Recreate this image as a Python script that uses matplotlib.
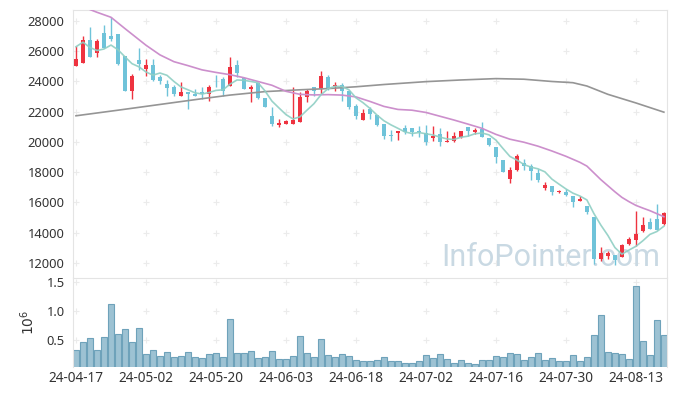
import numpy as np
import matplotlib
matplotlib.use('Agg')
import matplotlib.pyplot as plt

# daily candles (KRW)
open_ = [25000, 25200, 26750, 25910, 27210, 27010, 27160, 25690, 23340, 25430,
         24850, 25100, 24280, 23840, 23620, 23050, 23310, 23180, 23310, 23200,
         24060, 24170, 23710, 25100, 24220, 23470, 23890, 22920, 21730, 21140,
         21160, 21160, 21290, 22960, 23620, 23490, 24280, 23670, 23750, 23360,
         22390, 21420, 22190, 21800, 21200, 20480, 20560, 20940, 20940, 20720,
         20590, 20280, 20540, 19970, 20040, 20300, 21000, 20670, 20850, 20260,
         19680, 18800, 17570, 18120, 18630, 18410, 17920, 16930, 17110, 16670,
         16710, 16450, 16080, 15790, 15000, 12230, 12420, 12490, 12380, 13220,
         13480, 14120, 14670, 14930, 14560]
high = [26350, 27010, 27580, 26830, 27740, 28290, 27160, 25690, 24500, 26200,
        25470, 25470, 24410, 24110, 23800, 23970, 23310, 23530, 23620, 23800,
        24410, 24280, 25600, 25430, 24250, 23800, 23890, 22920, 22300, 21550,
        21470, 23620, 23310, 23490, 23620, 24700, 24410, 23970, 23890, 23360,
        22520, 22170, 22280, 21800, 21200, 20760, 20740, 21110, 20940, 21070,
        21110, 21070, 20920, 20740, 20630, 20740, 21000, 20940, 21310, 20260,
        19680, 18800, 18320, 19200, 18850, 18560, 18210, 17370, 17110, 16800,
        16890, 16450, 16430, 15790, 15000, 13060, 12750, 12490, 13260, 13740,
        15460, 15040, 14980, 15920, 15390]
low = [25000, 25200, 25650, 25650, 26200, 26700, 25070, 23340, 22830, 24770,
       24350, 24000, 23840, 23070, 23070, 23010, 22170, 23010, 22850, 22740,
       23620, 23070, 23710, 24280, 23490, 22650, 22870, 22280, 21030, 20960,
       21160, 21160, 21290, 22630, 23010, 23160, 23450, 23340, 22740, 22150,
       21550, 21420, 21530, 21050, 20190, 20040, 20150, 20500, 20370, 20300,
       19770, 20060, 19710, 19970, 19970, 20260, 20410, 20540, 20300, 19710,
       18610, 17990, 17290, 18060, 18170, 17510, 17330, 16850, 16490, 16630,
       16410, 15660, 16080, 15200, 11900, 12090, 12230, 11870, 12380, 13170,
       13110, 14030, 14270, 14180, 14510]
close = [25470, 26750, 25650, 26660, 26200, 26790, 25180, 23340, 24370, 25160,
         25100, 24110, 24060, 23600, 23140, 23310, 23140, 23070, 23200, 23620,
         24000, 23340, 24960, 24590, 23490, 23620, 22940, 22280, 21160, 21270,
         21400, 21470, 22980, 23380, 23400, 24350, 23490, 23780, 23340, 22280,
         21690, 21910, 21880, 21140, 20370, 20370, 20740, 20670, 20670, 20630,
         19970, 20370, 19970, 20080, 20410, 20740, 20700, 20780, 20300, 19820,
         18980, 17990, 18120, 19070, 18390, 18060, 17460, 17130, 16670, 16740,
         16470, 16030, 16190, 15390, 12230, 12620, 12620, 12180, 13190, 13570,
         13880, 14470, 14270, 14180, 15310]
# volume in millions of shares
volume = [0.32, 0.47, 0.53, 0.32, 0.55, 1.12, 0.61, 0.69, 0.47, 0.71,
          0.26, 0.33, 0.22, 0.29, 0.20, 0.22, 0.29, 0.21, 0.19, 0.26,
          0.28, 0.21, 0.86, 0.28, 0.28, 0.31, 0.19, 0.21, 0.31, 0.17,
          0.17, 0.22, 0.57, 0.28, 0.21, 0.52, 0.24, 0.21, 0.26, 0.22,
          0.16, 0.14, 0.13, 0.16, 0.21, 0.13, 0.13, 0.10, 0.10, 0.13,
          0.24, 0.19, 0.26, 0.17, 0.10, 0.16, 0.10, 0.09, 0.16, 0.16,
          0.22, 0.21, 0.28, 0.26, 0.16, 0.21, 0.28, 0.16, 0.19, 0.14,
          0.13, 0.24, 0.14, 0.21, 0.59, 0.93, 0.29, 0.28, 0.26, 0.17,
          1.44, 0.49, 0.24, 0.85, 0.59]

# moving averages
ma5 = [26300, 26600, 26250, 26050, 26150, 26410, 26100, 25630, 25180, 24970,
       24630, 24420, 24560, 24410, 24000, 23640, 23450, 23250, 23170, 23270,
       23410, 23450, 23820, 24100, 24080, 24000, 23920, 23380, 22700, 22250,
       21810, 21520, 21660, 22100, 22530, 23120, 23520, 23680, 23670, 23450,
       22920, 22600, 22220, 21780, 21400, 21130, 20900, 20660, 20560, 20620,
       20540, 20460, 20320, 20200, 20160, 20310, 20380, 20540, 20590, 20470,
       20120, 19570, 19040, 18800, 18510, 18330, 18220, 18020, 17540, 17210,
       16890, 16610, 16420, 16160, 15260, 14490, 13810, 13010, 12570, 12840,
       13090, 13460, 13880, 14070, 14420]
ma20_idx = [0, 2, 3, 5, 7, 10, 12, 14, 16, 18, 20, 22, 24, 26, 28, 30, 32, 34,
            36, 38, 40, 42, 44, 46, 48, 50, 52, 54, 56, 58, 60, 62, 64, 66, 68,
            70, 72, 73, 74, 75, 76, 77, 78, 79, 80, 81, 82, 83, 84]
ma20 = [29300, 28760, 28580, 28250, 27500, 26400, 25760, 25310, 25050, 24770,
        24600, 24450, 24250, 24000, 23750, 23350, 23150, 23110, 23130, 23100,
        22980, 22680, 22350, 22150, 22100, 21950, 21700, 21450, 21180, 20900,
        20500, 20180, 19980, 19720, 19400, 19050, 18650, 18400, 17950, 17500,
        17100, 16700, 16330, 16050, 15800, 15620, 15450, 15250, 15050]
ma120_idx = [0, 6, 12, 18, 22, 27, 32, 36, 40, 44, 50, 55, 60, 64, 68, 71, 73,
             76, 80, 84]
ma120 = [21730, 22100, 22480, 22860, 23100, 23330, 23450, 23530, 23650, 23800,
         23990, 24100, 24190, 24150, 24000, 23920, 23700, 23150, 22580, 21970]

tick_labels = ['24-04-17', '24-05-02', '24-05-20', '24-06-03', '24-06-18',
               '24-07-02', '24-07-16', '24-07-30', '24-08-13']
price_ticks = list(range(12000, 28001, 2000))
vol_ticks = [0.5, 1.0, 1.5]

RED = '#ee3340'
BLUE = '#6fc3d9'
SPINE = '#e4e4e4'
TXT = '#333333'

plt.rcParams['font.family'] = ['Noto Sans', 'DejaVu Sans']

fig = plt.figure(figsize=(6.77, 3.96), dpi=100)
ax = fig.add_axes([0.1078, 0.3005, 0.878, 0.6742])
axv = fig.add_axes([0.1078, 0.0732, 0.878, 0.2248], sharex=ax)

x = np.arange(len(close))
o = np.array(open_)
c = np.array(close)
cols = np.where(c >= o, RED, BLUE)

# grid of little plus signs
xt = x[::10]
gx, gy = np.meshgrid(xt, price_ticks)
ax.plot(gx.ravel(), gy.ravel(), '+', color='#ebebeb', ms=4.5, mew=0.8, zorder=0)
gx, gy = np.meshgrid(xt, vol_ticks)
axv.plot(gx.ravel(), gy.ravel(), '+', color='#ebebeb', ms=4.5, mew=0.8, zorder=0)

ax.text(0.619, 0.043, 'InfoPointer.com', transform=ax.transAxes,
        fontsize=22, family='Roboto', color='#c9d9e3', ha='left', va='baseline', zorder=0.5)

ax.vlines(x, low, high, colors=cols, lw=1, zorder=2)
ax.bar(x, np.maximum(np.abs(c - o), 60), bottom=np.minimum(o, c), width=0.62,
       color=cols, zorder=3)

ax.plot(ma120_idx, ma120, color='#959595', lw=1.2, zorder=4)
ax.plot(ma20_idx, ma20, color='#cc8fcc', lw=1.2, zorder=4)
ax.plot(x, ma5, color='#8fcfc4', lw=1.2, alpha=0.9, zorder=4)

axv.bar(x, volume, width=0.92, color='#9dc2d3', edgecolor='#6ea2ba', lw=0.8)

ax.set_xlim(-0.43, 84.5)
ax.set_ylim(11060, 28730)
axv.set_ylim(0.034, 1.574)

ax.set_yticks(price_ticks)
ax.set_yticklabels([str(p) for p in price_ticks])
axv.set_yticks(vol_ticks)
axv.set_yticklabels(['0.5', '1.0', '1.5'])
axv.set_xticks(xt)
axv.set_xticklabels(tick_labels)
axv.set_ylabel('$10^6$', fontsize=10, color=TXT, labelpad=6)

ax.tick_params(axis='both', length=0, labelsize=9.3, colors=TXT, pad=6)
ax.tick_params(axis='x', labelbottom=False)
axv.tick_params(axis='y', length=0, labelsize=9.3, colors=TXT, pad=6)
axv.tick_params(axis='x', length=0, labelsize=9.8, colors=TXT, pad=3)

for a in (ax, axv):
    for s in a.spines.values():
        s.set_color(SPINE)
ax.spines['bottom'].set_visible(False)
axv.spines['bottom'].set_visible(False)

fig.savefig('out.png', dpi=100)
